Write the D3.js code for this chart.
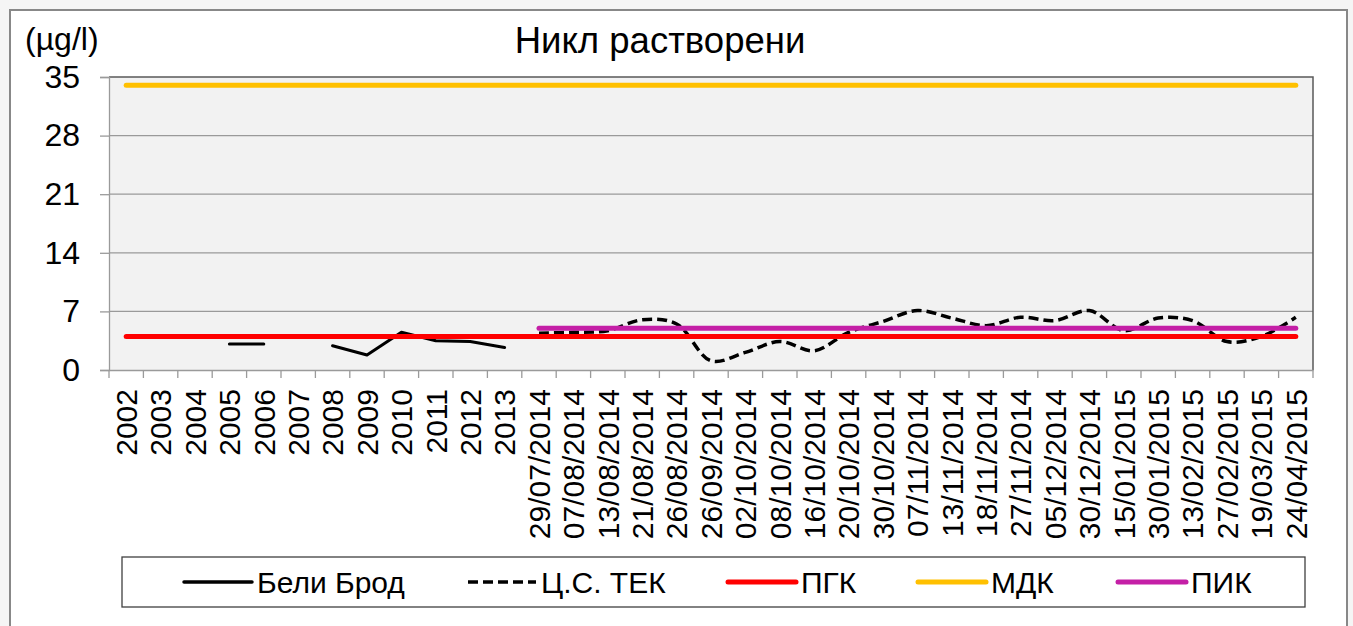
<!DOCTYPE html>
<html><head><meta charset="utf-8">
<script src="https://cdn.jsdelivr.net/npm/d3@7"></script>
<style>
html,body{margin:0;padding:0;background:#f5f5f5;}
svg{display:block;font-family:"Liberation Sans",Arial,sans-serif;}
</style></head>
<body>
<svg id="chart" width="1353" height="626"></svg>
<script>
const categories = ["2002","2003","2004","2005","2006","2007","2008","2009","2010","2011","2012","2013",
  "29/07/2014","07/08/2014","13/08/2014","21/08/2014","26/08/2014","26/09/2014","02/10/2014","08/10/2014",
  "16/10/2014","20/10/2014","30/10/2014","07/11/2014","13/11/2014","18/11/2014","27/11/2014","05/12/2014",
  "30/12/2014","15/01/2015","30/01/2015","13/02/2015","27/02/2015","19/03/2015","24/04/2015"];
const beliBrod = [null,null,null,3.1,3.1,null,2.9,1.8,4.5,3.5,3.4,2.7,
  null,null,null,null,null,null,null,null,null,null,null,null,null,null,null,null,null,null,null,null,null,null,null];
const tek = [null,null,null,null,null,null,null,null,null,null,null,null,
  4.4,4.5,4.7,6.0,5.5,1.1,2.1,3.4,2.3,4.5,5.8,7.1,6.2,5.3,6.3,5.9,7.1,4.7,6.2,5.9,3.4,4.0,6.3];
const pgk = categories.map(() => 4);
const mdk = categories.map(() => 34);
const pik = categories.map((c, i) => i >= 12 ? 5 : null);
const yTicks = [0, 7, 14, 21, 28, 35];
const seriesNames = ["Бели Брод", "Ц.С. ТЕК", "ПГК", "МДК", "ПИК"];

const svg = d3.select("#chart");
// chart frame
svg.append("rect").attr("x", 10).attr("y", 10).attr("width", 1337).attr("height", 640)
  .attr("fill", "#fff").attr("stroke", "#888").attr("stroke-width", 2);

const P = {l: 109, r: 1313, t: 77, b: 370};
const x = d3.scaleBand().domain(categories).range([P.l, P.r]);
const y = d3.scaleLinear().domain([0, 35]).range([P.b, P.t]);

svg.append("rect").attr("x", P.l).attr("y", P.t).attr("width", P.r - P.l).attr("height", P.b - P.t)
  .attr("fill", "#f2f2f2");

// gridlines
svg.append("g").selectAll("line").data(yTicks.filter(t => t > 0 && t < 35)).join("line")
  .attr("x1", P.l).attr("x2", P.r).attr("y1", d => y(d)).attr("y2", d => y(d))
  .attr("stroke", "#9a9a9a").attr("stroke-width", 1.3);

// plot border top/right dark
svg.append("path").attr("d", `M${P.l},${P.t}H${P.r}V${P.b}`).attr("fill", "none")
  .attr("stroke", "#5a5a5a").attr("stroke-width", 1.5);

// y axis
const yAxis = svg.append("g").attr("transform", `translate(${P.l},0)`)
  .call(d3.axisLeft(y).tickValues(yTicks).tickSize(9).tickPadding(20).tickFormat(d3.format("d")));
yAxis.select(".domain").attr("stroke", "#9a9a9a").attr("stroke-width", 1.3);
yAxis.selectAll(".tick line").attr("stroke", "#9a9a9a").attr("stroke-width", 1.3);
yAxis.selectAll(".tick text").attr("font-size", 32).attr("fill", "#000")
  .attr("font-family", "Liberation Sans, Arial, sans-serif");

// x axis
const xAxis = svg.append("g").attr("transform", `translate(0,${P.b})`)
  .call(d3.axisBottom(x).tickSize(0).tickSizeOuter(0));
xAxis.select(".domain").attr("stroke", "#9a9a9a").attr("stroke-width", 1.3);
xAxis.selectAll(".tick text")
  .attr("font-size", 30).attr("fill", "#000").attr("font-family", "Liberation Sans, Arial, sans-serif")
  .attr("text-anchor", "end").attr("transform", "rotate(-90)")
  .attr("x", -19).attr("y", 0).attr("dy", "0.36em");
// tick marks at band boundaries
const bounds = categories.map(c => x(c)).concat([P.r]);
svg.append("g").selectAll("line").data(bounds).join("line")
  .attr("x1", d => d).attr("x2", d => d).attr("y1", P.b).attr("y2", P.b + 8)
  .attr("stroke", "#9a9a9a").attr("stroke-width", 1.3);

const cx = (c) => x(c) + x.bandwidth() / 2;
const mk = (curve) => d3.line().defined(d => d.v != null).x(d => cx(d.c)).y(d => y(d.v)).curve(curve);
const toPts = arr => categories.map((c, i) => ({c, v: arr[i]}));

const g = svg.append("g").attr("fill", "none");
g.append("path").attr("d", mk(d3.curveLinear)(toPts(beliBrod)))
  .attr("stroke", "#000").attr("stroke-width", 3).attr("stroke-linecap", "round").attr("stroke-linejoin", "round");
g.append("path").attr("d", mk(d3.curveCatmullRom.alpha(0.5))(toPts(tek)))
  .attr("stroke", "#000").attr("stroke-width", 3.5).attr("stroke-dasharray", "10,5");
g.append("path").attr("d", mk(d3.curveLinear)(toPts(pgk)))
  .attr("stroke", "#ff0000").attr("stroke-width", 5).attr("stroke-linecap", "round");
g.append("path").attr("d", mk(d3.curveLinear)(toPts(mdk)))
  .attr("stroke", "#ffc000").attr("stroke-width", 5).attr("stroke-linecap", "round");
g.append("path").attr("d", mk(d3.curveLinear)(toPts(pik)))
  .attr("stroke", "#c41fa6").attr("stroke-width", 5).attr("stroke-linecap", "round");

// title & unit
svg.append("text").attr("x", 660).attr("y", 53).attr("text-anchor", "middle")
  .attr("font-size", 36.5).attr("fill", "#000").text("Никл растворени");
svg.append("text").attr("x", 25).attr("y", 50)
  .attr("font-size", 32).attr("fill", "#000").text("(µg/l)");

// legend
svg.append("rect").attr("x", 122).attr("y", 557).attr("width", 1183).attr("height", 50)
  .attr("fill", "#fff").attr("stroke", "#404040").attr("stroke-width", 1.3);
const legX = [184, 468, 728, 918, 1118];
const legStyle = [
  {stroke: "#000", w: 3.5, dash: null},
  {stroke: "#000", w: 3.5, dash: "10,5"},
  {stroke: "#ff0000", w: 5, dash: null},
  {stroke: "#ffc000", w: 5, dash: null},
  {stroke: "#c41fa6", w: 5, dash: null}
];
const leg = svg.append("g").selectAll("g").data(seriesNames).join("g")
  .attr("transform", (d, i) => `translate(${legX[i]},582)`);
leg.append("line").attr("x1", 0).attr("x2", 68).attr("y1", 0).attr("y2", 0)
  .attr("stroke", (d, i) => legStyle[i].stroke).attr("stroke-width", (d, i) => legStyle[i].w)
  .attr("stroke-dasharray", (d, i) => legStyle[i].dash)
  .attr("stroke-linecap", (d, i) => legStyle[i].dash ? "butt" : "round");
leg.append("text").attr("x", 73).attr("y", 0).attr("dy", "0.36em")
  .attr("font-size", 30).attr("fill", "#000").text(d => d);
</script>
</body></html>
